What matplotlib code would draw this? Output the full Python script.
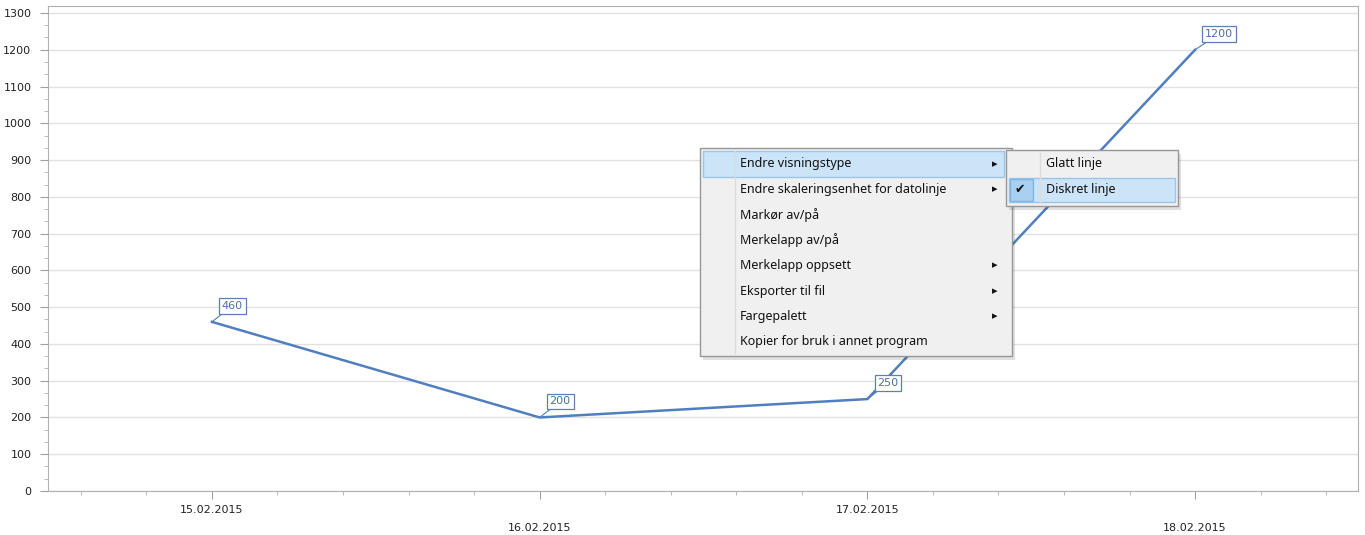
import numpy as np
import matplotlib
matplotlib.use("Agg")
import matplotlib.pyplot as plt
import matplotlib.dates as mdates
from matplotlib.patches import Rectangle
from matplotlib.ticker import MultipleLocator, FixedLocator
import datetime as dt

# data
dates = ["15.02.2015", "16.02.2015", "17.02.2015", "18.02.2015"]
values = [460, 200, 250, 1200]

menu_items = ["Endre visningstype", "Endre skaleringsenhet for datolinje", "Markør av/på",
              "Merkelapp av/på", "Merkelapp oppsett", "Eksporter til fil", "Fargepalett",
              "Kopier for bruk i annet program"]
menu_has_sub = [True, True, False, False, True, True, True, False]
sub_items = ["Glatt linje", "Diskret linje"]

line_col = "#4f7fbf"
W, H = 1365, 535

x = [mdates.date2num(dt.datetime.strptime(d, "%d.%m.%Y")) for d in dates]

fig = plt.figure(figsize=(W / 100, H / 100), dpi=100)
ax = fig.add_axes([48 / W, 44 / H, 1310 / W, 485 / H])

ax.plot(x, values, color=line_col, lw=1.8, zorder=3)
for xi, v in zip(x, values):
    ax.annotate(str(v), xy=(xi, v), xytext=(10, 11), textcoords="offset pixels",
                ha="left", va="bottom", fontsize=8, color="#4a6ea9",
                bbox=dict(boxstyle="square,pad=0.25", fc="white", ec="#5b80b8", lw=0.9),
                arrowprops=dict(arrowstyle="-", color=line_col, lw=0.8, shrinkA=0, shrinkB=0),
                zorder=4)

ax.set_xlim(x[0] - 0.5, x[-1] + 0.497)
ax.set_ylim(0, 1319)
ax.yaxis.set_major_locator(MultipleLocator(100))
ax.yaxis.set_minor_locator(MultipleLocator(100 / 3))
ax.xaxis.set_major_locator(FixedLocator(x))
ax.xaxis.set_minor_locator(MultipleLocator(0.2))
ax.set_xticklabels(dates)
ax.grid(axis="y", color="#e2e2e2", lw=1)
ax.set_axisbelow(True)

for s in ax.spines.values():
    s.set_color("#b0b0b0")
ax.tick_params(which="major", length=6, color="#a0a0a0", labelsize=8, pad=6, labelcolor="#222222")
ax.tick_params(which="minor", length=3, color="#b0b0b0")
for i, t in enumerate(ax.xaxis.get_major_ticks()):
    t.set_pad(4 if i % 2 == 0 else 17)

# context menu drawn on top (pixel coords, from top-left)
def R(x0, y0, w, h, **kw):
    fig.add_artist(Rectangle((x0 / W, 1 - (y0 + h) / H), w / W, h / H,
                             transform=fig.transFigure, **kw))

def T(x0, y0, s, size=9, family=("Noto Sans", "DejaVu Sans")):
    fig.text(x0 / W, 1 - y0 / H, s, transform=fig.transFigure, va="center",
             family=list(family), fontsize=size, color="#111111")

def L(x0, y0, x1, y1, **kw):
    fig.add_artist(plt.Line2D([x0 / W, x1 / W], [1 - y0 / H, 1 - y1 / H],
                              transform=fig.transFigure, **kw))

# shadow + main menu
R(703, 152, 312, 208, fc="#000000", alpha=0.12, lw=0)
R(700, 148, 312, 208, fc="#f0f0f0", ec="#979797", lw=1)
L(735, 151, 735, 353, color="#dcdcdc", lw=1)
R(703, 151, 301, 26, fc="#cce4f7", ec="#9bc6ec", lw=1)
row_h = 25.4
for i, (s, sub) in enumerate(zip(menu_items, menu_has_sub)):
    yc = 164 + i * row_h
    T(740, yc, s)
    if sub:
        T(992, yc, "\u25B8", size=8, family=("DejaVu Sans",))

# submenu
R(1009, 154, 172, 56, fc="#000000", alpha=0.12, lw=0)
R(1006, 150, 172, 56, fc="#f0f0f0", ec="#979797", lw=1)
L(1040, 153, 1040, 203, color="#dcdcdc", lw=1)
R(1009, 178, 166, 24, fc="#cce4f7", ec="#9bc6ec", lw=1)
R(1010, 179, 23, 22, fc="#a9d0f0", ec="#7fb6e4", lw=1)
T(1046, 164, sub_items[0])
T(1046, 190, sub_items[1])
T(1015, 190, "\u2714", size=9, family=("DejaVu Sans",))

fig.savefig("out.png", dpi=100)
